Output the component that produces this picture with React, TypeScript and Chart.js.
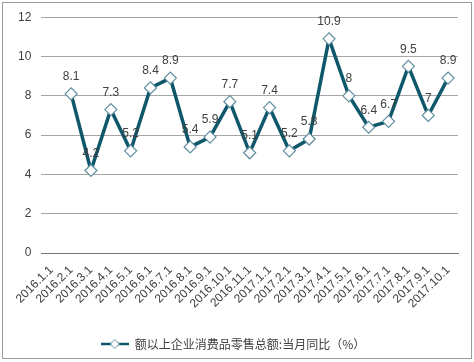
import React, { useEffect, useRef } from "react";
import { Chart, registerables } from "chart.js";

Chart.register(...registerables);

const categories = [
  "2016.1.1", "2016.2.1", "2016.3.1", "2016.4.1", "2016.5.1", "2016.6.1", "2016.7.1",
  "2016.8.1", "2016.9.1", "2016.10.1", "2016.11.1", "2017.1.1", "2017.2.1", "2017.3.1",
  "2017.4.1", "2017.5.1", "2017.6.1", "2017.7.1", "2017.8.1", "2017.9.1", "2017.10.1",
];
const values: (number | null)[] = [
  null, 8.1, 4.2, 7.3, 5.2, 8.4, 8.9, 5.4, 5.9, 7.7, 5.1, 7.4, 5.2, 5.8, 10.9, 8, 6.4, 6.7, 9.5, 7, 8.9,
];
const seriesName = "额以上企业消费品零售总额:当月同比（%）";
const yTicks = [0, 2, 4, 6, 8, 10, 12];

const LINE = "#0f586b";
const MARK = "#5e8e9e";

function legendIcon(): HTMLCanvasElement {
  const c = document.createElement("canvas");
  c.width = 28;
  c.height = 12;
  const ctx = c.getContext("2d")!;
  ctx.strokeStyle = LINE;
  ctx.lineWidth = 2.5;
  ctx.beginPath();
  ctx.moveTo(0, 6);
  ctx.lineTo(28, 6);
  ctx.stroke();
  ctx.fillStyle = "#fff";
  ctx.strokeStyle = MARK;
  ctx.lineWidth = 1;
  ctx.beginPath();
  ctx.moveTo(14, 1.5);
  ctx.lineTo(18.5, 6);
  ctx.lineTo(14, 10.5);
  ctx.lineTo(9.5, 6);
  ctx.closePath();
  ctx.fill();
  ctx.stroke();
  return c;
}

const labelPlugin = {
  id: "valueLabels",
  afterDatasetsDraw(chart: any) {
    const ctx = chart.ctx;
    const meta = chart.getDatasetMeta(0);
    ctx.save();
    ctx.font = "12px 'Liberation Sans', Arial, sans-serif";
    ctx.fillStyle = "#404040";
    ctx.textAlign = "center";
    ctx.textBaseline = "bottom";
    meta.data.forEach((pt: any, i: number) => {
      const v = values[i];
      if (v === null || v === undefined) return;
      ctx.fillText(String(v), pt.x, pt.y - 11);
    });
    ctx.restore();
  },
};

export default function App() {
  const ref = useRef<HTMLCanvasElement>(null);
  useEffect(() => {
    if (!ref.current) return;
    const icon = legendIcon();
    const chart = new Chart(ref.current, {
      type: "line",
      data: {
        labels: categories,
        datasets: [
          {
            label: seriesName,
            data: values,
            borderColor: LINE,
            borderWidth: 3.5,
            backgroundColor: "#fff",
            pointStyle: "rectRot",
            pointRadius: 6,
            pointBorderColor: MARK,
            pointBorderWidth: 1.2,
            pointBackgroundColor: "#fff",
            tension: 0,
            spanGaps: false,
          },
        ],
      },
      options: {
        animation: false,
        responsive: false,
        layout: { padding: { top: 9, left: 8, right: 16, bottom: 2 } },
        scales: {
          x: {
            offset: true,
            grid: { display: false },
            border: { display: true, color: "#777" },
            ticks: {
              autoSkip: false,
              maxRotation: 45,
              minRotation: 45,
              color: "#404040",
              font: { size: 12, family: "'Liberation Sans', Arial, sans-serif" },
              padding: 2,
            },
            afterFit: (s: any) => {
              s.height = 75;
            },
          },
          y: {
            min: 0,
            max: 12,
            afterBuildTicks: (s: any) => {
              s.ticks = yTicks.map((v) => ({ value: v }));
            },
            grid: { color: "#a6a6a6", drawTicks: false },
            border: { display: false },
            ticks: {
              color: "#404040",
              padding: 10,
              font: { size: 12, family: "'Liberation Sans', Arial, sans-serif" },
            },
          },
        },
        plugins: {
          legend: {
            position: "bottom",
            labels: {
              usePointStyle: true,
              pointStyle: icon as any,
              pointStyleWidth: 28,
              color: "#404040",
              padding: 10,
              font: { size: 12, family: "'Noto Sans CJK SC', sans-serif" },
              generateLabels: () => [
                {
                  text: seriesName,
                  pointStyle: icon as any,
                  fillStyle: "#fff",
                  strokeStyle: "#fff",
                  lineWidth: 0,
                  fontColor: "#404040",
                  datasetIndex: 0,
                } as any,
              ],
            },
          },
          tooltip: { enabled: false },
        },
      },
      plugins: [labelPlugin],
    });
    return () => chart.destroy();
  }, []);
  return (
    <div style={{ position: "fixed", left: 0, top: 0, width: 474, height: 362, background: "#fff" }}>
      <div
        style={{
          position: "absolute",
          left: 2,
          top: 2,
          width: 468,
          height: 355,
          border: "1px solid #9a9a9a",
          boxSizing: "content-box",
        }}
      />
      <canvas ref={ref} width={474} height={362} style={{ position: "absolute", left: 0, top: 0 }} />
    </div>
  );
}
